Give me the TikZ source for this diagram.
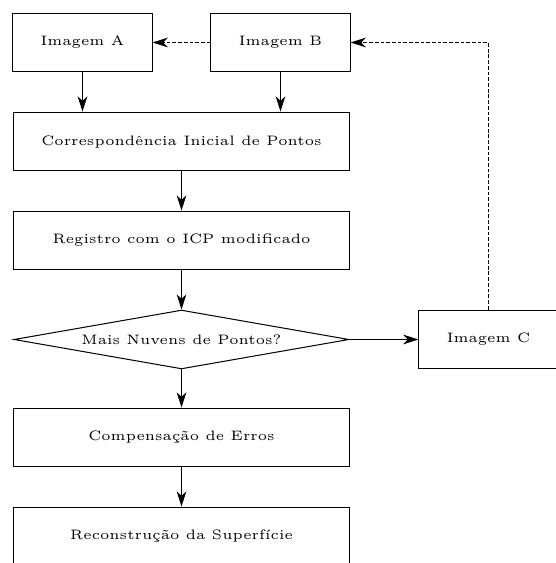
\documentclass[tikz,border=0pt]{standalone}
\usetikzlibrary{shapes.geometric,arrows.meta}
\begin{document}
\begin{tikzpicture}[x=0.394pt,y=-0.394pt,
  every node/.style={font=\fontsize{5.4}{6.5}\selectfont},
  smallbox/.style={draw,rectangle,minimum width=54.8pt,minimum height=23.2pt,inner sep=0pt},
  mainbox/.style={draw,rectangle,minimum width=132.4pt,minimum height=23.2pt,inner sep=0pt},
  decision/.style={draw,diamond,shape aspect=5.7,minimum width=132pt,minimum height=23.2pt,inner sep=0pt},
  arr/.style={-{Stealth[length=6pt,width=3.8pt,inset=1.8pt]}},
  darr/.style={arr,dash pattern=on 1.5pt off 0.75pt}]
\useasboundingbox (0,0) rectangle (555,563);
\node[smallbox] (A) at (82.5,42.5) {Imagem A};
\node[smallbox] (B) at (280.5,42.5) {Imagem B};
\node[mainbox] (corr) at (181.5,141.5) {Correspondência Inicial de Pontos};
\node[mainbox] (reg) at (181.5,240.5) {Registro com o ICP modificado};
\node[decision] (dec) at (181.5,339.5) {Mais Nuvens de Pontos?};
\node[smallbox] (C) at (488.5,339.5) {Imagem C};
\node[mainbox] (comp) at (181.5,437.5) {Compensação de Erros};
\node[mainbox] (rec) at (181.5,536.5) {Reconstrução da Superfície};
\draw[arr] (A) -- (A |- corr.north);
\draw[arr] (B) -- (B |- corr.north);
\draw[darr] (B) -- (A);
\draw[arr] (corr) -- (reg);
\draw[arr] (reg) -- (dec);
\draw[arr] (dec) -- (comp);
\draw[arr] (comp) -- (rec);
\draw[arr] (dec) -- (C);
\draw[darr] (C.north) |- (B.east);
\end{tikzpicture}
\end{document}
